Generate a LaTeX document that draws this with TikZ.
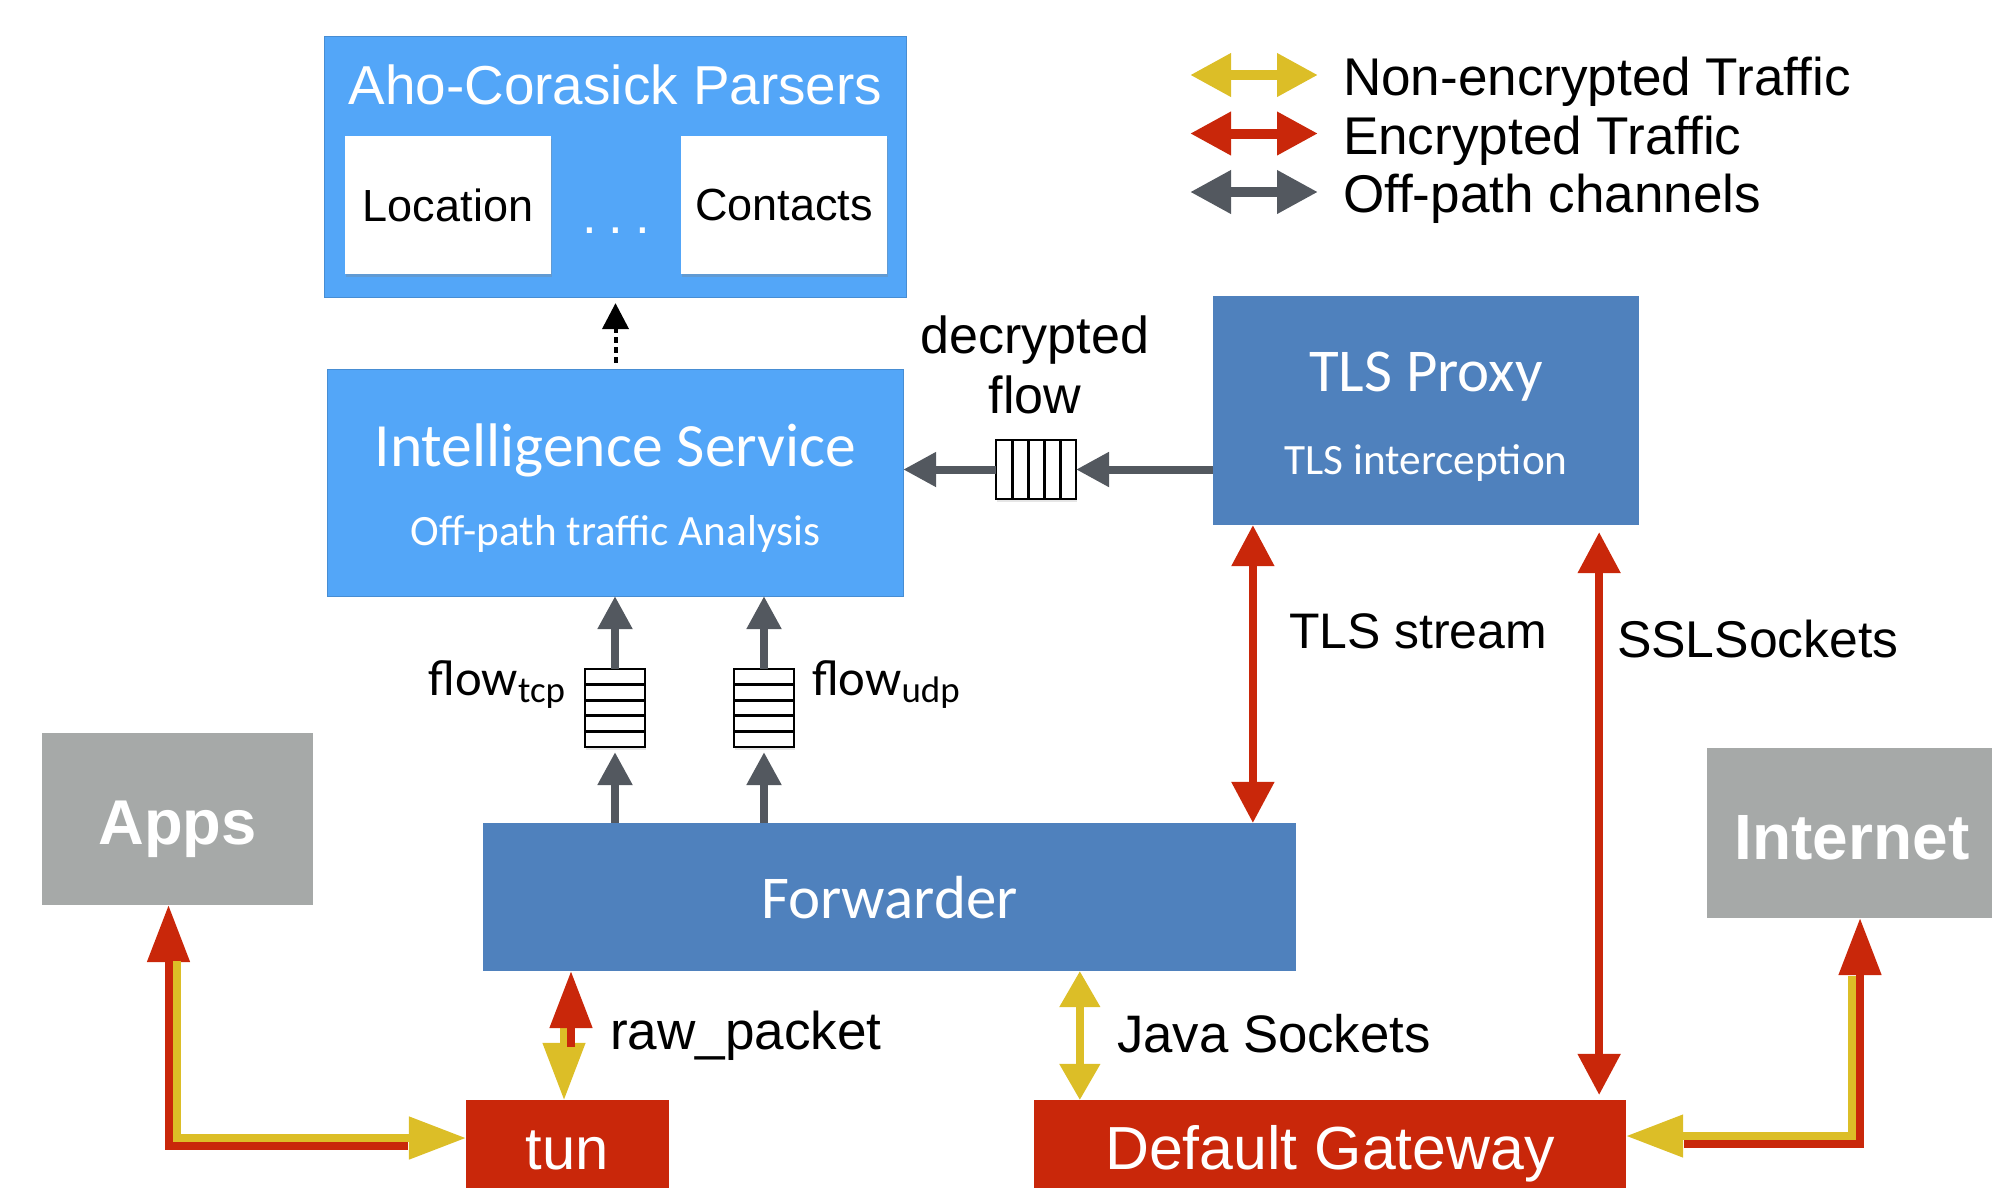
\documentclass[tikz,border=0pt]{standalone}
\usepackage{fontspec}
\setmainfont{Liberation Sans}
\newfontfamily\calfont{Carlito}
\usetikzlibrary{arrows.meta, positioning, calc, shadows}

\definecolor{skyblue}{HTML}{53A6F8}
\definecolor{steelblue}{HTML}{4F81BD}
\definecolor{encred}{HTML}{C9270A}
\definecolor{clearyellow}{HTML}{DCBE27}
\definecolor{pathgray}{HTML}{53585F}
\definecolor{hostgray}{HTML}{A6A9A8}

\newcommand{\fsz}[1]{\fontsize{#1}{#1}\selectfont}

\begin{document}
\begin{tikzpicture}[
    x=0.01cm, y=-0.01cm,
    box/.style={rectangle, inner sep=0pt, outer sep=0pt, text=white},
    lightbox/.style={box, fill=skyblue, draw=skyblue!85!black, line width=0.3pt},
    darkbox/.style={box, fill=steelblue},
    redbox/.style={box, fill=encred},
    hostbox/.style={box, fill=hostgray, font=\bfseries\fsz{18.1}},
    parser/.style={rectangle, fill=white, inner sep=0pt, minimum width=2.06cm, minimum height=1.38cm, font=\fsz{12.8},
      drop shadow={shadow xshift=0.4pt, shadow yshift=-0.8pt, opacity=0.3}},
    queue/.style={rectangle, draw=black, fill=white, line width=0.55pt, inner sep=0pt, outer sep=0pt,
      drop shadow={shadow xshift=0.3pt, shadow yshift=-0.8pt, opacity=0.2}},
    qline/.style={line width=0.85pt},
    txt/.style={anchor=base, inner sep=0pt, outer sep=0pt},
    offline/.style={draw=pathgray, line width=0.08cm, -{Triangle[length=0.33cm, width=0.33cm]}},
    encline/.style={draw=encred, line width=0.08cm},
    clearline/.style={draw=clearyellow, line width=0.075cm},
    midtip/.style={{Triangle[length=0.41cm, width=0.41cm]}-{Triangle[length=0.41cm, width=0.41cm]}},
    bigtip/.style={-{Triangle[length=0.57cm, width=0.41cm]}},
    legarrow/.style={line width=0.1cm, {Triangle[length=0.41cm, width=0.41cm]}-{Triangle[length=0.41cm, width=0.41cm]}},
  ]
  \useasboundingbox (0,0) rectangle (1992,1187);

  % parsers
  \node[lightbox, minimum width=5.81cm, minimum height=2.60cm] (aho) at (615.5,167) {};
  \node[txt, text=white, font=\fsz{15.6}] (ahotitle) at (615.5,104) {Aho-Corasick Parsers};
  \node[parser] (loc) at (448,205) {Location};
  \node[parser] (cont) at (784,205) {Contacts};
  \node[txt, text=white, font=\fsz{15}] (dots) at (616,233) {.\hspace{0.12cm}.\hspace{0.12cm}.};

  % intelligence service
  \node[lightbox, minimum width=5.75cm, minimum height=2.26cm] (is) at (615.5,483) {};
  \node[txt, text=white, font=\calfont\fsz{17.5}] (istitle) at (615.5,466) {Intelligence Service};
  \node[txt, text=white, font=\calfont\fsz{12.3}] (issub) at (615.5,545) {Off-path traffic Analysis};

  % tls proxy
  \node[darkbox, minimum width=4.26cm, minimum height=2.29cm] (tls) at (1426,410.5) {};
  \node[txt, text=white, font=\calfont\fsz{17.3}] (tlstitle) at (1426,391) {TLS Proxy};
  \node[txt, text=white, font=\calfont\fsz{12.3}] (tlssub) at (1426,474) {TLS interception};

  % forwarder and endpoints
  \node[darkbox, minimum width=8.13cm, minimum height=1.48cm] (fwd) at (889.5,897) {};
  \node[txt, text=white, font=\calfont\fsz{17.3}] (fwdtitle) at (889.5,918) {Forwarder};
  \node[hostbox, minimum width=2.71cm, minimum height=1.72cm] (apps) at (177.5,819) {};
  \node[txt, text=white, font=\bfseries\fsz{18}] (appstitle) at (177.5,844) {Apps};
  \node[hostbox, minimum width=2.90cm, minimum height=1.70cm] (inet) at (1852,833) {};
  \node[txt, text=white, font=\bfseries\fsz{18.2}] (inettitle) at (1852,859) {Internet};
  \node[redbox, minimum width=2.03cm, minimum height=1.00cm] (tun) at (567.5,1150) {};
  \node[txt, text=white, font=\fsz{17}] (tuntitle) at (567.5,1169) {tun};
  \node[redbox, minimum width=5.92cm, minimum height=1.00cm] (dg) at (1330,1150) {};
  \node[txt, text=white, font=\fsz{17.3}] (dgtitle) at (1330,1169) {Default Gateway};

  % queues
  \node[queue, minimum width=0.80cm, minimum height=0.59cm] (qdec) at (1036,469.5) {};
  \node[queue, minimum width=0.60cm, minimum height=0.78cm] (qtcp) at (615,708) {};
  \node[queue, minimum width=0.60cm, minimum height=0.78cm] (qudp) at (764,708) {};
  \foreach \q in {qtcp, qudp}
    \foreach \k in {1,...,4}
      \draw[qline] ($(\q.north west)!\k/5!(\q.south west)$) -- ($(\q.north east)!\k/5!(\q.south east)$);
  \foreach \k in {1,...,4}
    \draw[qline] ($(qdec.north west)!\k/5!(qdec.north east)$) -- ($(qdec.south west)!\k/5!(qdec.south east)$);

  % labels
  \node[txt, font=\fsz{14.8}] (declabel) at (1035,353) {decrypted};
  \node[txt, font=\fsz{14.8}] (flowlabel) at (1035,413) {flow};
  \node[txt, anchor=base east, font=\calfont\fsz{14.4}] (tcplabel) at (565,695) {flow\raisebox{-0.3ex}{\fsz{10.5}tcp}};
  \node[txt, anchor=base west, font=\calfont\fsz{14.4}] (udplabel) at (812,695) {flow\raisebox{-0.3ex}{\fsz{10.5}udp}};
  \node[txt, anchor=base west, font=\fsz{15.1}] (rawlabel) at (610,1049) {raw\_packet};
  \node[txt, anchor=base west, font=\fsz{15}] (javalabel) at (1117,1052) {Java Sockets};
  \node[txt, anchor=base west, font=\fsz{14.2}] (streamlabel) at (1289,648) {TLS stream};
  \node[txt, anchor=base west, font=\fsz{14.7}] (ssllabel) at (1617,657) {SSLSockets};

  % off-path channels
  \draw[-{Triangle[length=0.26cm, width=0.26cm]}, line width=0.04cm, dash pattern=on 0.055cm off 0.045cm,
    shorten <=0.07cm, shorten >=0.06cm] (is) -- (aho);
  \draw[offline] (tls.west |- qdec) -- (qdec.east);
  \draw[offline] (qdec.west) -- (is.east |- qdec);
  \foreach \q in {qtcp, qudp} {
    \draw[offline, shorten >=0.05cm] (fwd.north -| \q) -- (\q.south);
    \draw[offline] (\q.north) -- (is.south -| \q);
  }

  % encrypted and plain traffic
  \coordinate (streamfoot) at ($(tls.south west)+(40,0)$);
  \coordinate (sslfoot) at ($(tls.south east)+(-40,0)$);
  \coordinate (javafoot) at ($(dg.north west)+(46,0)$);
  \draw[encline, midtip] (streamfoot) -- (streamfoot |- fwd.north);
  \draw[encline, midtip, shorten <=0.07cm, shorten >=0.05cm] (sslfoot) -- (sslfoot |- dg.north);
  \draw[clearline, {Triangle[length=0.36cm, width=0.39cm]}-{Triangle[length=0.36cm, width=0.39cm]}]
    (javafoot |- fwd.south) -- (javafoot);
  \draw[clearline, bigtip, shorten <=0.56cm] ([xshift=-0.035cm]fwd.south -| tun.north) -- ([xshift=-0.035cm]tun.north);
  \draw[encline, bigtip, shorten <=0.53cm] ([xshift=0.035cm]tun.north) -- ([xshift=0.035cm]fwd.south -| tun.north);

  \draw[encline, bigtip, line join=miter] ($(tun.west)+(-58,-4)$) -| ($(apps.south)+(-9,0)$);
  \draw[clearline, bigtip, line join=miter, line width=0.08cm] ($(apps.south)+(-1,56)$) |- ($(tun.west)+(0,-12)$);
  \draw[encline, bigtip, line join=miter] ($(dg.east)+(58,-6)$) -| ($(inet.south)+(8,0)$);
  \draw[clearline, bigtip, line join=miter, line width=0.08cm] ($(inet.south)+(0,58)$) |- ($(dg.east)+(0,-14)$);

  % legend
  \foreach \col/\txt [count=\i from 0] in {clearyellow/Non-encrypted Traffic, encred/Encrypted Traffic, pathgray/Off-path channels} {
    \coordinate (legl\i) at (1190,75+58.5*\i);
    \coordinate (legr\i) at (1318,75+58.5*\i);
    \draw[legarrow, draw=\col] (legl\i) -- (legr\i);
    \node[txt, anchor=base west, font=\fsz{15.1}] (legtext\i) at (1343,95.5+58.5*\i) {\txt};
  }
\end{tikzpicture}
\end{document}
